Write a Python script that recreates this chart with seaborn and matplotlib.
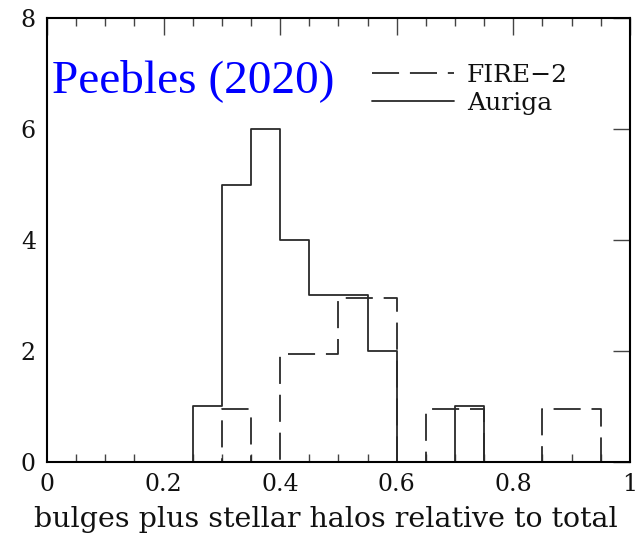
import numpy as np
import pandas as pd
import matplotlib
matplotlib.use("Agg")
import matplotlib.pyplot as plt
import seaborn as sns

# Histogram bins (width 0.05 over [0, 1])
bin_width = 0.05
bin_range = (0.0, 1.0)
bin_centers = np.round(np.arange(0.025, 1.0, 0.05), 3)

# Counts per bin for the two simulation suites
auriga_counts = [0, 0, 0, 0, 0, 1, 5, 6, 4, 3, 3, 2, 0, 0, 1, 0, 0, 0, 0, 0]
fire2_counts = [0, 0, 0, 0, 0, 0, 1, 0, 2, 2, 3, 3, 0, 1, 1, 0, 0, 1, 1, 0]

# Small downward shift so the dashed outline does not sit on the solid one
fire2_shift = 0.05

x_ticks = [0, 0.2, 0.4, 0.6, 0.8, 1]
x_tick_labels = ["0", "0.2", "0.4", "0.6", "0.8", "1"]
y_ticks = [0, 2, 4, 6, 8]
x_label = "bulges plus stellar halos relative to total"
note = "Peebles (2020)"

sns.set_theme(style="white")
plt.rcParams["font.family"] = ["DejaVu Serif"]

fig = plt.figure(figsize=(6.44, 5.38), dpi=100)
ax = fig.add_axes([0.073, 0.1413, 0.905, 0.8252])

auriga = pd.DataFrame({"x": bin_centers, "w": auriga_counts})
fire2 = pd.DataFrame({
    "x": bin_centers,
    "w": [c - fire2_shift if c > 0 else 0 for c in fire2_counts],
})

line_color = "#2a2a2a"
sns.histplot(data=fire2, x="x", weights="w", binwidth=bin_width,
             binrange=bin_range, element="step", fill=False,
             color=line_color, linewidth=1.3, linestyle=(0, (15, 6)),
             label="FIRE\u22122", ax=ax)
sns.histplot(data=auriga, x="x", weights="w", binwidth=bin_width,
             binrange=bin_range, element="step", fill=False,
             color=line_color, linewidth=1.3, label="Auriga", ax=ax)

ax.set_xlim(0, 1)
ax.set_ylim(0, 8)
ax.set_xticks(x_ticks)
ax.set_xticklabels(x_tick_labels)
ax.set_xticks(np.arange(0, 1.0001, 0.05), minor=True)
ax.set_yticks(y_ticks)
ax.set_xlabel(x_label, fontsize=20.5, color="#111111")
ax.xaxis.set_label_coords(0.478, -0.1)
ax.xaxis.label.set_va("top")
ax.set_ylabel("")

ax.tick_params(axis="both", which="major", direction="in", length=12,
               width=1.0, color="#444444", labelsize=17, labelcolor="#111111",
               top=True, right=True, pad=8)
ax.tick_params(axis="x", which="minor", direction="in", length=6,
               width=1.0, color="#444444", top=True, bottom=True)
for s in ax.spines.values():
    s.set_color("black")
    s.set_linewidth(1.5)

ax.text(0.009, 0.834, note, transform=ax.transAxes, color="#0000ff",
        fontsize=34, family="Liberation Serif", va="baseline", ha="left")

leg = ax.legend(loc="upper left", bbox_to_anchor=(0.54, 0.92), frameon=False,
                fontsize=18, handlelength=3.3, handletextpad=0.5,
                labelspacing=0.2, borderaxespad=0)
for t in leg.get_texts():
    t.set_color("#111111")

fig.savefig("out.png", dpi=100)
